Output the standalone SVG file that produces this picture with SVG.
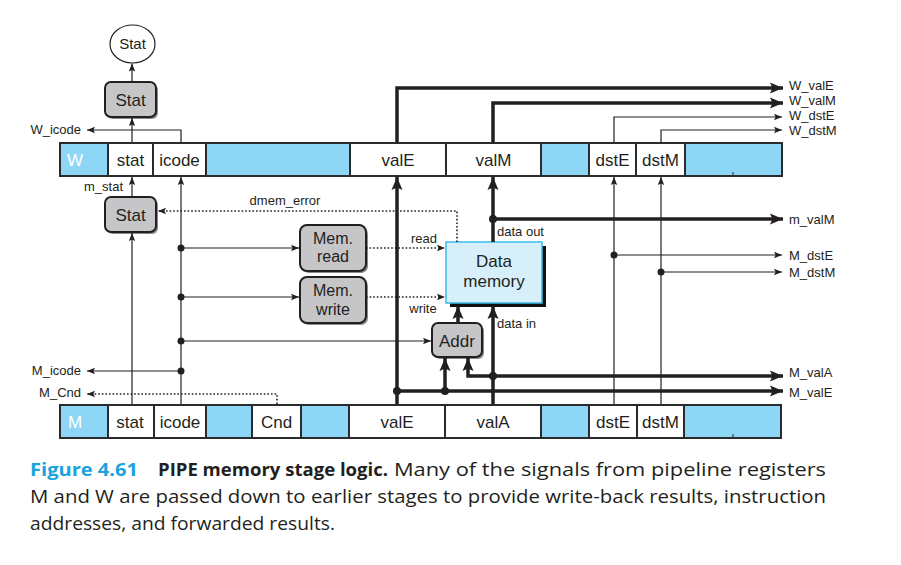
<svg xmlns="http://www.w3.org/2000/svg" width="901" height="565" viewBox="0 0 901 565">
  <style>
    .reg { stroke: #2b2b2b; stroke-width: 2; }
    .blue { fill: #8ed6f5; }
    .white { fill: #ffffff; }
    .cell { font-family: "Liberation Sans", Arial, sans-serif; font-size: 17px; fill: #231f20; text-anchor: middle; }
    .two { font-size: 16px; }
    .regname { font-family: "Liberation Sans", Arial, sans-serif; font-size: 17px; fill: #ffffff; }
    .lbl { font-family: "Liberation Sans", Arial, sans-serif; font-size: 13px; fill: #231f20; }
    .box { fill: #c6c6c8; stroke: #231f20; stroke-width: 2; }
    .shadow { fill: #8a8a8a; }
    .thin { fill: none; stroke: #231f20; stroke-width: 1.2; }
    .thick { fill: none; stroke: #231f20; stroke-width: 3.5; }
    .dot { fill: none; stroke: #231f20; stroke-width: 1.6; stroke-dasharray: 1.6 2; }
    .cap { font-family: "Open Sans", "Noto Sans", sans-serif; font-size: 18.5px; fill: #231f20; }
  </style>
  <defs>
    <marker id="ah" markerUnits="userSpaceOnUse" markerWidth="10" markerHeight="8" refX="8" refY="4" orient="auto">
      <path d="M0,0.8 L8,4 L0,7.2 L1.6,4 Z" fill="#231f20"/>
    </marker>
    <marker id="ahT" markerUnits="userSpaceOnUse" markerWidth="16" markerHeight="12" refX="13" refY="6" orient="auto">
      <path d="M0,0.5 L13,6 L0,11.5 L2.5,6 Z" fill="#231f20"/>
    </marker>
  </defs>

  <!-- pipeline register W -->
  <g id="regW">
    <rect class="reg blue" x="60" y="143" width="722" height="33"/>
    <rect class="reg white" x="108" y="143" width="45" height="33"/>
    <rect class="reg white" x="153" y="143" width="53" height="33"/>
    <rect class="reg white" x="350" y="143" width="96" height="33"/>
    <rect class="reg white" x="446" y="143" width="95" height="33"/>
    <rect class="reg white" x="589" y="143" width="47" height="33"/>
    <rect class="reg white" x="636" y="143" width="49" height="33"/>
    <line x1="733" y1="172" x2="733" y2="176" stroke="#2b2b2b" stroke-width="1"/>
    <text class="regname" x="67" y="166">W</text>
    <text class="cell" x="130.5" y="166">stat</text>
    <text class="cell" x="179.5" y="166">icode</text>
    <text class="cell" x="398" y="166">valE</text>
    <text class="cell" x="493.5" y="166">valM</text>
    <text class="cell" x="612.5" y="166">dstE</text>
    <text class="cell" x="660.5" y="166">dstM</text>
  </g>

  <!-- pipeline register M -->
  <g id="regM">
    <rect class="reg blue" x="60" y="405" width="721" height="33"/>
    <rect class="reg white" x="108" y="405" width="46" height="33"/>
    <rect class="reg white" x="154" y="405" width="52" height="33"/>
    <rect class="reg white" x="252" y="405" width="49" height="33"/>
    <rect class="reg white" x="349" y="405" width="96" height="33"/>
    <rect class="reg white" x="445" y="405" width="96" height="33"/>
    <rect class="reg white" x="589" y="405" width="48" height="33"/>
    <rect class="reg white" x="637" y="405" width="47" height="33"/>
    <line x1="733" y1="434" x2="733" y2="438" stroke="#2b2b2b" stroke-width="1"/>
    <text class="regname" x="68" y="428">M</text>
    <text class="cell" x="130" y="428">stat</text>
    <text class="cell" x="180" y="428">icode</text>
    <text class="cell" x="276.5" y="428">Cnd</text>
    <text class="cell" x="397" y="428">valE</text>
    <text class="cell" x="493" y="428">valA</text>
    <text class="cell" x="613" y="428">dstE</text>
    <text class="cell" x="660.5" y="428">dstM</text>
  </g>

  <!-- status output -->
  <g id="statOut">
    <ellipse cx="132.5" cy="44" rx="22.5" ry="19" fill="#ffffff" stroke="#231f20" stroke-width="1.2"/>
    <text class="cell" x="132.5" y="49" style="font-size:15px">Stat</text>
  </g>

  <g id="statW">
    <rect class="shadow" x="107" y="84" width="51" height="35" rx="6"/>
    <rect class="box" x="105" y="82" width="51" height="35" rx="6"/>
    <text class="cell" x="130.5" y="106">Stat</text>
  </g>

  <g id="statM">
    <rect class="shadow" x="107" y="199" width="51" height="35" rx="6"/>
    <rect class="box" x="105" y="197" width="51" height="35" rx="6"/>
    <text class="cell" x="130.5" y="221">Stat</text>
  </g>

  <g id="memRead">
    <rect class="shadow" x="302" y="227" width="66" height="46" rx="7"/>
    <rect class="box" x="300" y="225" width="66" height="46" rx="7"/>
    <text class="cell two" x="333" y="244">Mem.</text>
    <text class="cell two" x="333" y="262">read</text>
  </g>

  <g id="memWrite">
    <rect class="shadow" x="302" y="279" width="66" height="46" rx="7"/>
    <rect class="box" x="300" y="277" width="66" height="46" rx="7"/>
    <text class="cell two" x="333" y="296">Mem.</text>
    <text class="cell two" x="333" y="315">write</text>
  </g>

  <g id="dataMemory">
    <rect x="450" y="246" width="96" height="61" fill="#111111"/>
    <rect x="446" y="242" width="96" height="61" fill="#d6effb" stroke="#3bbde9" stroke-width="1.5"/>
    <text class="cell" x="494" y="267">Data</text>
    <text class="cell" x="494" y="287">memory</text>
  </g>

  <g id="addr">
    <rect class="shadow" x="434" y="325" width="50" height="34" rx="6"/>
    <rect class="box" x="432" y="323" width="50" height="34" rx="6"/>
    <text class="cell" x="457" y="347">Addr</text>
  </g>

  <!-- wiring -->
  <g id="connectors">
    <!-- status path -->
    <path class="thin" d="M132,142 V118" marker-end="url(#ah)"/>
    <path class="thin" d="M132,82 V63.5" marker-end="url(#ah)"/>
    <path class="thin" d="M132,197 V177" marker-end="url(#ah)"/>
    <path class="thin" d="M132,404 V233" marker-end="url(#ah)"/>
    <path class="thin" d="M181,142 V130 H87" marker-end="url(#ah)"/>

    <!-- icode fan-out -->
    <path class="thin" d="M181,404 V177" marker-end="url(#ah)"/>
    <path class="thin" d="M181,248 H299" marker-end="url(#ah)"/>
    <path class="thin" d="M181,297 H299" marker-end="url(#ah)"/>
    <path class="thin" d="M181,341 H431" marker-end="url(#ah)"/>
    <path class="thin" d="M181,371 H87" marker-end="url(#ah)"/>

    <!-- control signals (dotted) -->
    <path class="dot" d="M277,404 V394 H87" marker-end="url(#ah)"/>
    <path class="dot" d="M457,242 V211 H158" marker-end="url(#ah)"/>
    <path class="dot" d="M366,248 H445" marker-end="url(#ah)"/>
    <path class="dot" d="M366,297 H445" marker-end="url(#ah)"/>

    <!-- W outputs -->
    <path class="thick" d="M397,143 V88 H783" marker-end="url(#ahT)"/>
    <path class="thick" d="M493,143 V103 H783" marker-end="url(#ahT)"/>
    <path class="thin" d="M614,143 V117 H782" marker-end="url(#ah)"/>
    <path class="thin" d="M661,143 V130 H782" marker-end="url(#ah)"/>

    <!-- valE / valA paths -->
    <path class="thick" d="M397,404 V177" marker-end="url(#ahT)"/>
    <path class="thick" d="M397,391 H783" marker-end="url(#ahT)"/>
    <path class="thick" d="M445,391 V358" marker-end="url(#ahT)"/>
    <path class="thick" d="M493,404 V306" marker-end="url(#ahT)"/>
    <path class="thick" d="M493,376 H783" marker-end="url(#ahT)"/>
    <path class="thick" d="M493,376 H468 V358" marker-end="url(#ahT)"/>
    <path class="thick" d="M458,323 V306" marker-end="url(#ahT)"/>

    <!-- data out -->
    <path class="thick" d="M493,242 V177" marker-end="url(#ahT)"/>
    <path class="thick" d="M493,219 H783" marker-end="url(#ahT)"/>

    <!-- destination registers -->
    <path class="thin" d="M614,404 V177" marker-end="url(#ah)"/>
    <path class="thin" d="M614,255 H782" marker-end="url(#ah)"/>
    <path class="thin" d="M661,404 V177" marker-end="url(#ah)"/>
    <path class="thin" d="M661,272 H782" marker-end="url(#ah)"/>

    <!-- junctions -->
    <g fill="#231f20">
      <circle cx="181" cy="248" r="3.5"/>
      <circle cx="181" cy="297" r="3.5"/>
      <circle cx="181" cy="341" r="3.5"/>
      <circle cx="181" cy="371" r="3.5"/>
      <circle cx="493" cy="219" r="4"/>
      <circle cx="614" cy="255" r="3.5"/>
      <circle cx="661" cy="272" r="3.5"/>
      <circle cx="397" cy="391" r="4"/>
      <circle cx="445" cy="391" r="4"/>
      <circle cx="493" cy="376" r="4"/>
    </g>
  </g>

  <!-- signal labels -->
  <g id="labels">
    <text class="lbl" x="81" y="134" text-anchor="end">W_icode</text>
    <text class="lbl" x="123" y="191" text-anchor="end">m_stat</text>
    <text class="lbl" x="81" y="375" text-anchor="end">M_icode</text>
    <text class="lbl" x="81" y="397" text-anchor="end">M_Cnd</text>
    <text class="lbl" x="285" y="205" text-anchor="middle">dmem_error</text>
    <text class="lbl" x="424" y="243" text-anchor="middle">read</text>
    <text class="lbl" x="423" y="313" text-anchor="middle">write</text>
    <text class="lbl" x="497" y="236">data out</text>
    <text class="lbl" x="497" y="328">data in</text>
    <text class="lbl" x="789" y="90">W_valE</text>
    <text class="lbl" x="789" y="105">W_valM</text>
    <text class="lbl" x="789" y="120">W_dstE</text>
    <text class="lbl" x="789" y="135">W_dstM</text>
    <text class="lbl" x="789" y="224">m_valM</text>
    <text class="lbl" x="789" y="260">M_dstE</text>
    <text class="lbl" x="789" y="277">M_dstM</text>
    <text class="lbl" x="789" y="377">M_valA</text>
    <text class="lbl" x="789" y="397">M_valE</text>
  </g>

  <!-- caption -->
  <g id="caption">
    <text class="cap" x="30" y="476" style="font-weight:bold;fill:#1ba3de" textLength="108" lengthAdjust="spacingAndGlyphs">Figure 4.61</text>
    <text class="cap" x="158" y="476" style="font-weight:bold" textLength="230" lengthAdjust="spacingAndGlyphs">PIPE memory stage logic.</text>
    <text class="cap" x="394" y="476" textLength="432" lengthAdjust="spacingAndGlyphs">Many of the signals from pipeline registers</text>
    <text class="cap" x="30" y="503" textLength="796" lengthAdjust="spacingAndGlyphs">M and W are passed down to earlier stages to provide write-back results, instruction</text>
    <text class="cap" x="30" y="530" textLength="305" lengthAdjust="spacingAndGlyphs">addresses, and forwarded results.</text>
  </g>
</svg>
